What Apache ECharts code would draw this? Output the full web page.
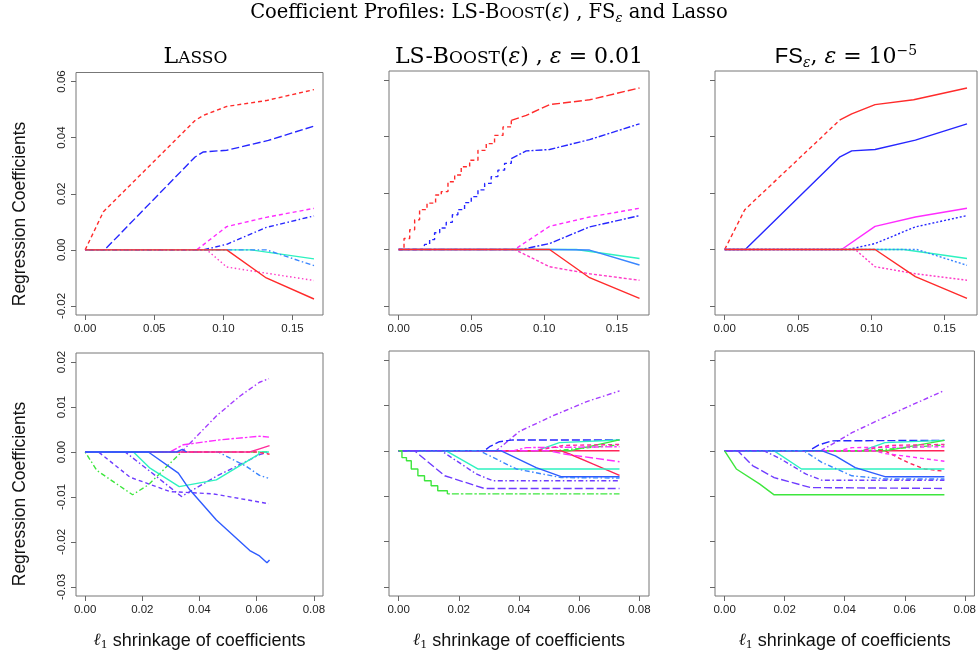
<!DOCTYPE html>
<html><head><meta charset="utf-8">
<script src="https://cdn.jsdelivr.net/npm/echarts@6/dist/echarts.min.js"></script>
<style>html,body{margin:0;padding:0;background:#fff}#c{width:979px;height:654px}</style>
</head><body><div id="c"></div>
<script>
// ---------- tick positions ----------
const topXTicks = [0, 0.05, 0.10, 0.15];
const topYTicks = [-0.02, 0, 0.02, 0.04, 0.06];
const lowXTicks = [0, 0.02, 0.04, 0.06, 0.08];
const lowYTicks = [-0.03, -0.02, -0.01, 0, 0.01, 0.02];

// ---------- top row, Lasso ----------
const lassoTopRedDash   = [[0,0],[0.0132,0.0136],[0.0795,0.0461],[0.0855,0.0479],[0.1024,0.0511],[0.131,0.0532],[0.1655,0.0571]];
const lassoTopBlueLong  = [[0,0],[0.014,0],[0.0795,0.0331],[0.0855,0.0349],[0.1024,0.0355],[0.1325,0.039],[0.1655,0.0441]];
const lassoTopMagenta   = [[0,0],[0.0807,0],[0.1024,0.0083],[0.131,0.0116],[0.1655,0.0148]];
const lassoTopBlueDot   = [[0,0],[0.0855,0],[0.1024,0.002],[0.131,0.008],[0.1655,0.0121]];
const lassoTopAqua      = [[0,0],[0.1024,0],[0.12,0],[0.1655,-0.0032]];
const lassoTopDodger    = [[0,0],[0.1024,0],[0.131,0],[0.1655,-0.0056]];
const lassoTopPink      = [[0,0],[0.088,0],[0.1024,-0.0061],[0.131,-0.0083],[0.1655,-0.0109]];
const lassoTopRed       = [[0,0],[0.1024,0],[0.131,-0.01],[0.1655,-0.0175]];

// ---------- top row, LS-Boost ----------
const lsTopRedSteps  = [[0,0],[0.0037,0.0039],[0.0076,0.007],[0.011,0.0105],[0.0144,0.0141],[0.0195,0.0164],[0.0254,0.0193],[0.0293,0.0205],[0.0339,0.024],[0.0385,0.0264],[0.043,0.0293],[0.0488,0.0316],[0.0545,0.0351],[0.0602,0.0375],[0.0659,0.0404],[0.0717,0.0434],[0.0774,0.0457]];
const lsTopRedTail   = [[0.0774,0.0457],[0.0877,0.0475],[0.1037,0.0513],[0.1312,0.053],[0.1655,0.0572]];
const lsTopBlueSteps = [[0,0],[0.0167,0],[0.0179,0.0018],[0.0213,0.0035],[0.0247,0.0059],[0.0282,0.0076],[0.0327,0.0096],[0.0369,0.0123],[0.0407,0.0141],[0.0453,0.0166],[0.0499,0.0187],[0.0545,0.0211],[0.0591,0.0234],[0.0636,0.0258],[0.0682,0.0281],[0.0728,0.0305],[0.0774,0.0322]];
const lsTopBlueTail  = [[0.0774,0.0322],[0.0877,0.0349],[0.1037,0.0354],[0.1312,0.0389],[0.1655,0.0445]];
const lsTopMagenta   = [[0,0],[0.0797,0],[0.1037,0.0082],[0.1312,0.0115],[0.1655,0.0146]];
const lsTopBlueDot   = [[0,0],[0.0842,0],[0.1037,0.0021],[0.1312,0.008],[0.1655,0.012]];
const lsTopAqua      = [[0,0],[0.1037,0],[0.122,0],[0.1655,-0.0032]];
const lsTopDodger    = [[0,0],[0.1037,0],[0.1312,-0.0002],[0.1655,-0.0055]];
const lsTopPink      = [[0,0],[0.0797,0],[0.1037,-0.0061],[0.1312,-0.0086],[0.1655,-0.0109]];
const lsTopRed       = [[0,0],[0.1037,0],[0.1312,-0.01],[0.1655,-0.0173]];

// ---------- top row, FS ----------
const fsTopRed       = [[0,0],[0.0137,0.0141],[0.0786,0.0459],[0.0866,0.048],[0.1025,0.0513],[0.1288,0.053],[0.1652,0.0572]];
const fsTopBlue      = [[0,0],[0.014,0],[0.0786,0.0328],[0.0866,0.0349],[0.1025,0.0354],[0.13,0.0387],[0.1652,0.0445]];
const fsTopMagenta   = [[0,0],[0.0797,0],[0.1025,0.0082],[0.13,0.0115],[0.1652,0.0146]];
const fsTopBlueDot   = [[0,0],[0.0843,0],[0.1025,0.0021],[0.13,0.008],[0.1652,0.012]];
const fsTopAqua      = [[0,0],[0.1025,0],[0.122,0],[0.1652,-0.0032]];
const fsTopDodger    = [[0,0],[0.1025,0],[0.131,0],[0.1652,-0.0056]];
const fsTopPink      = [[0,0],[0.0889,0],[0.1025,-0.0061],[0.13,-0.0086],[0.1652,-0.0109]];
const fsTopRedLow    = [[0,0],[0.1025,0],[0.13,-0.0096],[0.1652,-0.0173]];

// ---------- bottom row, Lasso ----------
const lassoLowViolet     = [[0,0],[0.0337,0],[0.0459,0.008],[0.0541,0.0124],[0.061,0.0155],[0.0643,0.0163]];
const lassoLowMagenta    = [[0,0],[0.0297,0],[0.0343,0.0016],[0.0471,0.0027],[0.061,0.0035],[0.0643,0.0033]];
const lassoLowGreen      = [[0,0],[0.0041,-0.0041],[0.0166,-0.0095],[0.0221,-0.0073],[0.0337,0],[0.0643,0]];
const lassoLowPurpleDash = [[0,0],[0.0047,0],[0.0157,-0.0056],[0.0297,-0.0088],[0.0448,-0.0093],[0.0643,-0.0115]];
const lassoLowPurpleDot  = [[0,0],[0.014,0],[0.0227,-0.0043],[0.0337,-0.0099],[0.0459,-0.0054],[0.061,-0.0006],[0.0643,0]];
const lassoLowAqua       = [[0,0],[0.0169,0],[0.0227,-0.0036],[0.0329,-0.0077],[0.0459,-0.0062],[0.0605,-0.0006],[0.0612,0],[0.0643,0]];
const lassoLowRoyal      = [[0,0],[0.0221,0],[0.0326,-0.0047],[0.0366,-0.0084],[0.0459,-0.0151],[0.0576,-0.0219],[0.061,-0.0231],[0.0636,-0.0246],[0.0645,-0.024]];
const lassoLowBump       = [[0,0],[0.032,0],[0.034,0.0006],[0.0355,0]];
const lassoLowDodger     = [[0,0],[0.0465,0],[0.0564,-0.0032],[0.061,-0.0052],[0.064,-0.0058]];
const lassoLowPink       = [[0,0],[0.0576,0],[0.061,0.0007],[0.0645,0.0014]];
const lassoLowRed        = [[0,0],[0.06,0],[0.0645,-0.0005]];

// ---------- bottom row, LS-Boost ----------
const lsLowViolet      = [[0,0],[0.0324,0],[0.0402,0.0043],[0.0512,0.0077],[0.0623,0.0108],[0.0734,0.0132]];
const lsLowBlueDash    = [[0,0],[0.0285,0],[0.0302,0.0009],[0.0335,0.002],[0.038,0.0024],[0.0734,0.0024]];
const lsLowAquaUp      = [[0,0],[0.0457,0],[0.0534,0.0018],[0.0734,0.0024]];
const lsLowGreenUp     = [[0,0],[0.0568,0],[0.0734,0.0024]];
const lsLowGreenUp2    = [[0,0],[0.0512,0],[0.0734,0.0013]];
const lsLowMagenta     = [[0,0],[0.038,0],[0.0424,0.0007],[0.0734,0.0009]];
const lsLowPinkUp      = [[0,0],[0.045,0],[0.055,0.0012],[0.0734,0.0014]];
const lsLowRedDown     = [[0,0],[0.054,0],[0.0568,-0.0007],[0.0645,-0.0029],[0.0734,-0.0054]];
const lsLowMagentaDown = [[0,0],[0.05,0],[0.0551,-0.0007],[0.0734,-0.0024]];
const lsLowAquaDown    = [[0,0],[0.0158,0],[0.0263,-0.004],[0.0734,-0.004]];
const lsLowRoyal       = [[0,0],[0.0341,0],[0.0457,-0.0037],[0.054,-0.0057],[0.0734,-0.0057]];
const lsLowDodger      = [[0,0],[0.0269,0],[0.0391,-0.004],[0.054,-0.0059],[0.0734,-0.006]];
const lsLowPurpleDot   = [[0,0],[0.0142,0],[0.0258,-0.0051],[0.0313,-0.0066],[0.0734,-0.0066]];
const lsLowPurpleDash  = [[0,0],[0.0053,0],[0.0153,-0.0055],[0.0285,-0.0083],[0.0734,-0.0083]];
const lsLowGreenSteps  = [[0,0],[0.0011,-0.0015],[0.0026,-0.0022],[0.0042,-0.004],[0.0064,-0.0055],[0.0086,-0.0066],[0.0108,-0.0077],[0.013,-0.0088],[0.0162,-0.0095]];
const lsLowGreenTail   = [[0.0162,-0.0095],[0.0734,-0.0095]];
const lsLowFlat        = [[0,0],[0.0734,0]];

// ---------- bottom row, FS ----------
const fsLowViolet      = [[0,0],[0.032,0],[0.038,0.0023],[0.0424,0.004],[0.0556,0.0081],[0.0732,0.0133]];
const fsLowBlueDash    = [[0,0],[0.0281,0],[0.0314,0.0013],[0.0358,0.0022],[0.0732,0.0023]];
const fsLowAquaUp      = [[0,0],[0.0457,0],[0.0534,0.0018],[0.0732,0.0023]];
const fsLowGreenUp     = [[0,0],[0.0534,0],[0.0732,0.0023]];
const fsLowGreenUp2    = [[0,0],[0.0466,0],[0.0732,0.0013]];
const fsLowMagenta     = [[0,0],[0.038,0],[0.0424,0.0007],[0.0732,0.0009]];
const fsLowPinkUp      = [[0,0],[0.045,0],[0.055,0.0012],[0.0732,0.0014]];
const fsLowRedDown     = [[0,0],[0.0534,0],[0.0545,-0.0004],[0.0611,-0.0026],[0.0666,-0.004],[0.0732,-0.0045]];
const fsLowMagentaDown = [[0,0],[0.05,0],[0.0534,-0.0006],[0.0732,-0.0023]];
const fsLowAquaDown    = [[0,0],[0.0165,0],[0.0256,-0.004],[0.0732,-0.004]];
const fsLowRoyal       = [[0,0],[0.0325,0],[0.0369,-0.0011],[0.0435,-0.0037],[0.0534,-0.0057],[0.0732,-0.0057]];
const fsLowDodger      = [[0,0],[0.0264,0],[0.0325,-0.0026],[0.0424,-0.0055],[0.0534,-0.0062],[0.0732,-0.0062]];
const fsLowPurpleDot   = [[0,0],[0.0132,0],[0.0187,-0.0018],[0.027,-0.0051],[0.0325,-0.0065],[0.0732,-0.0065]];
const fsLowPurpleDash  = [[0,0],[0.0044,0],[0.0094,-0.0033],[0.0165,-0.0059],[0.0286,-0.0081],[0.0732,-0.0083]];
const fsLowGreen       = [[0,0],[0.0039,-0.004],[0.0116,-0.0073],[0.0165,-0.0097],[0.0732,-0.0097]];
const fsLowFlat        = [[0,0],[0.0732,0]];

// ---------- styling ----------
const C = {
  red: '#ff2b2b', blue: '#2626ff', magenta: '#ff2cff', aqua: '#2ef2c0', dodger: '#3a86ff',
  pink: '#ff3cc8', green: '#3ee63e', bviolet: '#6f3cff', violet: '#a43cff', royal: '#2f5cff',
  redLow: '#ff2458', deeppink: '#ff2a9a'
};
const SOLID = 'solid', DASH = [4, 3], LONG = [8, 3], DOT = [1.5, 2.5], DOTDASH = [1.5, 2.5, 5, 2.5], TWODASH = [2.5, 2, 7, 2];

const SERIF = '"DejaVu Serif", "Liberation Serif", serif';
const SANS = '"Liberation Sans", Arial, sans-serif';

// plot boxes (pixels)
const boxes = [
  { left: 76,  top: 72.5, width: 247, height: 242.5 },
  { left: 389, top: 71,   width: 260, height: 244 },
  { left: 715, top: 71,   width: 262, height: 244 },
  { left: 76,  top: 353,  width: 247, height: 243 },
  { left: 389, top: 351,  width: 260, height: 245 },
  { left: 715, top: 351,  width: 262, height: 245 }
];

// each panel: list of [data, color, dash, step]
const panelLines = [
  [
    [lassoTopRedDash, C.red, DASH], [lassoTopBlueLong, C.blue, LONG], [lassoTopMagenta, C.magenta, DASH],
    [lassoTopBlueDot, C.blue, DOTDASH], [lassoTopAqua, C.aqua, SOLID], [lassoTopDodger, C.dodger, DOTDASH],
    [lassoTopPink, C.pink, DOT], [lassoTopRed, C.red, SOLID]
  ],
  [
    [lsTopRedSteps, C.red, DASH, 'end'], [lsTopRedTail, C.red, LONG], [lsTopBlueSteps, C.blue, DASH, 'end'],
    [lsTopBlueTail, C.blue, [7, 2, 2, 2]], [lsTopMagenta, C.magenta, DASH], [lsTopBlueDot, C.blue, [7, 2, 2, 2]],
    [lsTopAqua, C.aqua, SOLID], [lsTopDodger, C.dodger, SOLID], [lsTopPink, C.pink, [3, 2]], [lsTopRed, C.red, SOLID]
  ],
  [
    [fsTopRed.slice(0, 3), C.red, DASH], [fsTopRed.slice(2), C.red, SOLID], [fsTopBlue, C.blue, SOLID],
    [fsTopMagenta, C.magenta, SOLID], [fsTopBlueDot, C.blue, [2, 2]], [fsTopAqua, C.aqua, SOLID],
    [fsTopDodger, C.dodger, [2, 2]], [fsTopPink, C.pink, [2, 2]], [fsTopRedLow, C.red, SOLID]
  ],
  [
    [lassoLowViolet, C.violet, DOTDASH], [lassoLowMagenta, C.magenta, TWODASH], [lassoLowGreen, C.green, DOTDASH],
    [lassoLowPurpleDash, C.bviolet, DASH], [lassoLowPurpleDot, C.bviolet, DOTDASH], [lassoLowAqua, C.aqua, SOLID],
    [lassoLowDodger, C.dodger, DOTDASH], [lassoLowRed, C.redLow, DASH], [lassoLowPink, C.deeppink, SOLID],
    [lassoLowBump, C.royal, SOLID], [lassoLowRoyal, C.royal, SOLID]
  ],
  [
    [lsLowFlat, C.redLow, SOLID], [lsLowViolet, C.violet, DOTDASH], [lsLowBlueDash, C.blue, LONG],
    [lsLowAquaUp, C.aqua, SOLID], [lsLowGreenUp, C.green, SOLID], [lsLowGreenUp2, C.green, DOTDASH],
    [lsLowMagenta, C.magenta, TWODASH], [lsLowPinkUp, C.deeppink, DASH], [lsLowRedDown, C.redLow, SOLID],
    [lsLowMagentaDown, C.magenta, LONG], [lsLowAquaDown, C.aqua, SOLID], [lsLowRoyal, C.royal, SOLID],
    [lsLowDodger, C.dodger, DOTDASH], [lsLowPurpleDot, C.bviolet, DOTDASH], [lsLowPurpleDash, C.bviolet, LONG],
    [lsLowGreenSteps, C.green, SOLID, 'end'], [lsLowGreenTail, C.green, TWODASH]
  ],
  [
    [fsLowFlat, C.redLow, SOLID], [fsLowViolet, C.violet, DOTDASH], [fsLowBlueDash, C.blue, LONG],
    [fsLowAquaUp, C.aqua, SOLID], [fsLowGreenUp, C.green, SOLID], [fsLowGreenUp2, C.green, DOTDASH],
    [fsLowMagenta, C.magenta, DASH], [fsLowPinkUp, C.deeppink, DASH], [fsLowRedDown, C.redLow, DASH],
    [fsLowMagentaDown, C.magenta, DASH], [fsLowAquaDown, C.aqua, SOLID], [fsLowRoyal, C.royal, SOLID],
    [fsLowDodger, C.dodger, DOTDASH], [fsLowPurpleDot, C.bviolet, DOTDASH], [fsLowPurpleDash, C.bviolet, LONG],
    [fsLowGreen, C.green, SOLID]
  ]
];

const fmt = v => v.toFixed(2);
const isTop = i => i < 3;

const grid = boxes.map(b => Object.assign({ show: true, borderColor: '#777', borderWidth: 1, backgroundColor: 'transparent' }, b));

const xAxis = boxes.map((b, i) => {
  const ticks = isTop(i) ? topXTicks : lowXTicks;
  const ax = {
    type: 'value', gridIndex: i, position: 'bottom',
    min: isTop(i) ? -0.00662 : -0.0032,
    max: isTop(i) ? 0.17202 : 0.0832,
    axisLine: { show: false, onZero: false },
    splitLine: { show: false },
    axisTick: { show: true, length: 5, customValues: ticks, lineStyle: { color: '#666', width: 1 } },
    axisLabel: { customValues: ticks, formatter: fmt, fontFamily: SANS, fontSize: 11.5, color: '#222', margin: 8 }
  };
  if (!isTop(i)) {
    ax.name = '{l|ℓ}{n|1}{t| shrinkage of coefficients}';
    ax.nameLocation = 'middle';
    ax.nameGap = 33;
    ax.nameTextStyle = {
      rich: {
        l: { fontFamily: SERIF, fontStyle: 'italic', fontSize: 17, color: '#111', lineHeight: 24 },
        n: { fontFamily: SERIF, fontSize: 11, color: '#111', lineHeight: 24, padding: [9, 0, 0, 0] },
        t: { fontFamily: SANS, fontSize: 18, color: '#111', lineHeight: 24 }
      }
    };
  }
  return ax;
});

const yAxis = boxes.map((b, i) => {
  const ticks = isTop(i) ? topYTicks : lowYTicks;
  const labelled = (i === 0 || i === 3);
  return {
    type: 'value', gridIndex: i, position: 'left',
    min: isTop(i) ? -0.0232 : -0.032,
    max: isTop(i) ? 0.0632 : 0.022,
    axisLine: { show: false, onZero: false },
    splitLine: { show: false },
    axisTick: { show: true, length: 5, customValues: ticks, lineStyle: { color: '#666', width: 1 } },
    axisLabel: { show: labelled, customValues: ticks, formatter: fmt, rotate: 90, fontFamily: SANS, fontSize: 11.5, color: '#222', margin: 8 }
  };
});

const series = [];
panelLines.forEach((lines, gi) => {
  lines.forEach(([data, color, dash, step]) => {
    series.push({
      type: 'line', xAxisIndex: gi, yAxisIndex: gi, data,
      showSymbol: false, symbol: 'none', step: step || false, silent: true, z: 2,
      lineStyle: { color, width: 1.4, type: dash }
    });
  });
});

// rich styles for the serif headings: small caps, subscripts and superscripts
const richTitle = (S) => {
  const L = Math.round(S * 1.3);
  return {
    a: { fontFamily: SERIF, fontSize: S, lineHeight: L, color: '#111' },
    i: { fontFamily: SERIF, fontStyle: 'italic', fontSize: S, lineHeight: L, color: '#111' },
    s: { fontFamily: SERIF, fontSize: Math.round(S * 0.76), lineHeight: L, padding: [Math.round(S * 0.16), 0, 0, 0], color: '#111' },
    f: { fontFamily: SANS, fontSize: Math.round(S * 0.98), lineHeight: L, color: '#111' },
    sub: { fontFamily: SERIF, fontStyle: 'italic', fontSize: Math.round(S * 0.65), lineHeight: L, padding: [Math.round(S * 0.6), 0, 0, 0], color: '#111' },
    sup: { fontFamily: SERIF, fontSize: Math.round(S * 0.65), lineHeight: L, padding: [0, 0, Math.round(S * 0.56), 0], color: '#111' }
  };
};

const centerX = i => boxes[i].left + boxes[i].width / 2;

const graphic = [
  { type: 'text', x: 489, y: 13, style: {
      text: '{a|Coefficient Profiles: LS-B}{s|OOST}{a|(}{i|ε}{a|) , FS}{sub|ε}{a| and Lasso}',
      rich: richTitle(19.5), align: 'center', verticalAlign: 'middle' } },
  { type: 'text', x: centerX(0) - 4, y: 57, style: {
      text: '{a|L}{s|ASSO}', rich: richTitle(22), align: 'center', verticalAlign: 'middle' } },
  { type: 'text', x: centerX(1), y: 57, style: {
      text: '{a|LS-B}{s|OOST}{a|(}{i|ε}{a|) , }{i|ε}{a| = 0.01}', rich: richTitle(22), align: 'center', verticalAlign: 'middle' } },
  { type: 'text', x: centerX(2), y: 57, style: {
      text: '{f|FS}{sub|ε}{a|, }{i|ε}{a| = 10}{sup|−5}', rich: richTitle(22), align: 'center', verticalAlign: 'middle' } },
  { type: 'text', x: 20, y: 214, rotation: Math.PI / 2, style: {
      text: 'Regression Coefficients', font: '17.5px ' + SANS, fill: '#111', align: 'center', verticalAlign: 'middle' } },
  { type: 'text', x: 20, y: 494, rotation: Math.PI / 2, style: {
      text: 'Regression Coefficients', font: '17.5px ' + SANS, fill: '#111', align: 'center', verticalAlign: 'middle' } }
];

const chart = echarts.init(document.getElementById('c'), null, { renderer: 'canvas' });
chart.setOption({ animation: false, backgroundColor: '#fff', grid, xAxis, yAxis, series, graphic });
</script>
</body></html>
